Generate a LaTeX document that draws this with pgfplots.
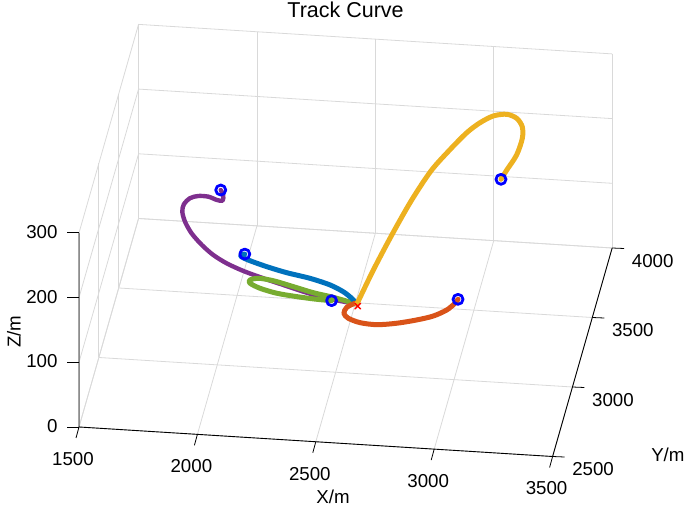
\documentclass[border=0pt]{standalone}
\usepackage{fontspec}
\setmainfont{Liberation Sans}
\usepackage{pgfplots}
\pgfplotsset{compat=1.18}

\definecolor{mblue}{HTML}{0072BD}
\definecolor{morange}{HTML}{D95319}
\definecolor{myellow}{HTML}{EDB120}
\definecolor{mpurple}{HTML}{7E2F8E}
\definecolor{mgreen}{HTML}{77AC30}

\begin{document}
\begin{tikzpicture}[x=1pt,y=1pt]
\useasboundingbox (0,0) rectangle (685,507);
\begin{axis}[
    at={(79pt,50.5pt)}, anchor=south west,
    x={(0.2368pt,-0.01475pt)},
    y={(0.0397pt,0.139pt)},
    z={(0pt,0.647pt)},
    xmin=1500, xmax=3500,
    ymin=2500, ymax=4000,
    zmin=0, zmax=300,
    xtick={1500,2000,2500,3000,3500},
    ytick={2500,3000,3500,4000},
    ztick={0,100,200,300},
    grid=major,
    grid style={black!15, line width=0.8pt},
    axis line style={draw=none},
    tick style={draw=none},
    major tick length=0pt,
    tick label style={font=\fontsize{18.7}{20}\selectfont},
    xticklabel style={anchor=center, xshift=-6pt, yshift=-32pt},
    yticklabel style={anchor=center, xshift=40.5pt, yshift=-13pt},
    zticklabel style={anchor=east, xshift=-18pt, yshift=1pt},
    /pgf/number format/assume math mode=true,
    /pgf/number format/1000 sep={},
    label style={font=\fontsize{18.7}{20}\selectfont},
    xlabel style={xshift=25pt, yshift=1pt},
    ylabel style={xshift=26pt, yshift=-39pt},
    zlabel style={xshift=35pt, yshift=13pt},
    title style={font=\fontsize{21.5}{23}\selectfont, yshift=-3pt},
    title={Track Curve},
    xlabel={X/m}, ylabel={Y/m}, zlabel={Z/m},
    clip=false,
    every axis plot/.append style={line width=5pt, line cap=round, line join=round},
]
% target
\addplot3[only marks, mark=x, mark size=4pt, red, mark options={line width=1.4pt}] coordinates {(2590,3020,100)};
% purple
\addplot3[mpurple, smooth, mark=none, line width=4.4pt] coordinates {
(1999,3094,250)(2009,3096,242)(2007,3093,234)(1976,3132,226)(1931,3188,218)
(1882,3225,210)(1844,3242,202)(1820,3233,194)(1816,3217,186)(1833,3184,178)
(1868,3141,170)(1918,3100,162)(1971,3071,154)(2031,3054,146)(2103,3044,138)
(2188,3038,130)(2273,3036,122)(2358,3034,114)(2456,3034,106)(2584,3034,100)};
% green
\addplot3[mgreen, smooth, mark=none] coordinates {
(2475,3047,100)(2412,3050,100)(2326,3060,100)(2239,3075,100)(2163,3103,100)
(2116,3134,100)(2112,3157,100)(2144,3173,100)(2210,3162,100)(2300,3129,100)
(2390,3095,100)(2478,3071,100)(2584,3034,100)};
% blue
\addplot3[mblue, smooth, mark=none] coordinates {
(2121,2972,180)(2099,3002,170)(2127,3023,160)(2204,3030,150)(2286,3042,140)
(2382,3058,130)(2465,3066,120)(2521,3069,110)(2559,3050,105)(2584,3034,100)};
% orange
\addplot3[morange, smooth, mark=none] coordinates {
(2998,3112,100)(2990,3083,100)(2964,3032,100)(2915,2983,100)(2851,2948,100)
(2772,2916,100)(2691,2897,100)(2619,2904,100)(2565,2930,100)(2541,2963,100)
(2546,3007,100)(2575,3039,100)};
% yellow
\addplot3[myellow, smooth, mark=none] coordinates {
(3172,3156,280)(3185,3224,280)(3208,3335,280)(3212,3455,280)(3198,3537,280)
(3161,3617,275)(3111,3664,270)(3050,3692,260)(2995,3684,250)(2944,3653,240)
(2882,3592,225)(2814,3527,205)(2752,3398,185)(2693,3263,160)(2635,3145,130)
(2584,3034,100)};
% start points
\addplot3[only marks, mark=o, mark size=5pt, blue, mark options={line width=2.8pt}] coordinates {
(1999,3094,250)(2121,2972,180)(2475,3047,100)(2998,3112,100)(3172,3156,280)};
% front axis lines and their ticks
\draw[black, line width=0.9pt] (axis cs:1500,2500,300) -- (axis cs:1500,2500,0) -- (axis cs:3500,2500,0) -- (axis cs:3500,4000,0);
\pgfplotsinvokeforeach{1500,2000,2500,3000,3500}{
  \draw[black, line width=0.8pt] (axis cs:#1,2500,0) -- ++(-3pt,-11pt);
}
\pgfplotsinvokeforeach{2500,3000,3500,4000}{
  \draw[black, line width=0.8pt] (axis cs:3500,#1,0) -- ++(12pt,-0.5pt);
}
\pgfplotsinvokeforeach{0,100,200,300}{
  \draw[black, line width=0.8pt] (axis cs:1500,2500,#1) -- ++(-12pt,0pt);
}
\end{axis}
\end{tikzpicture}
\end{document}
